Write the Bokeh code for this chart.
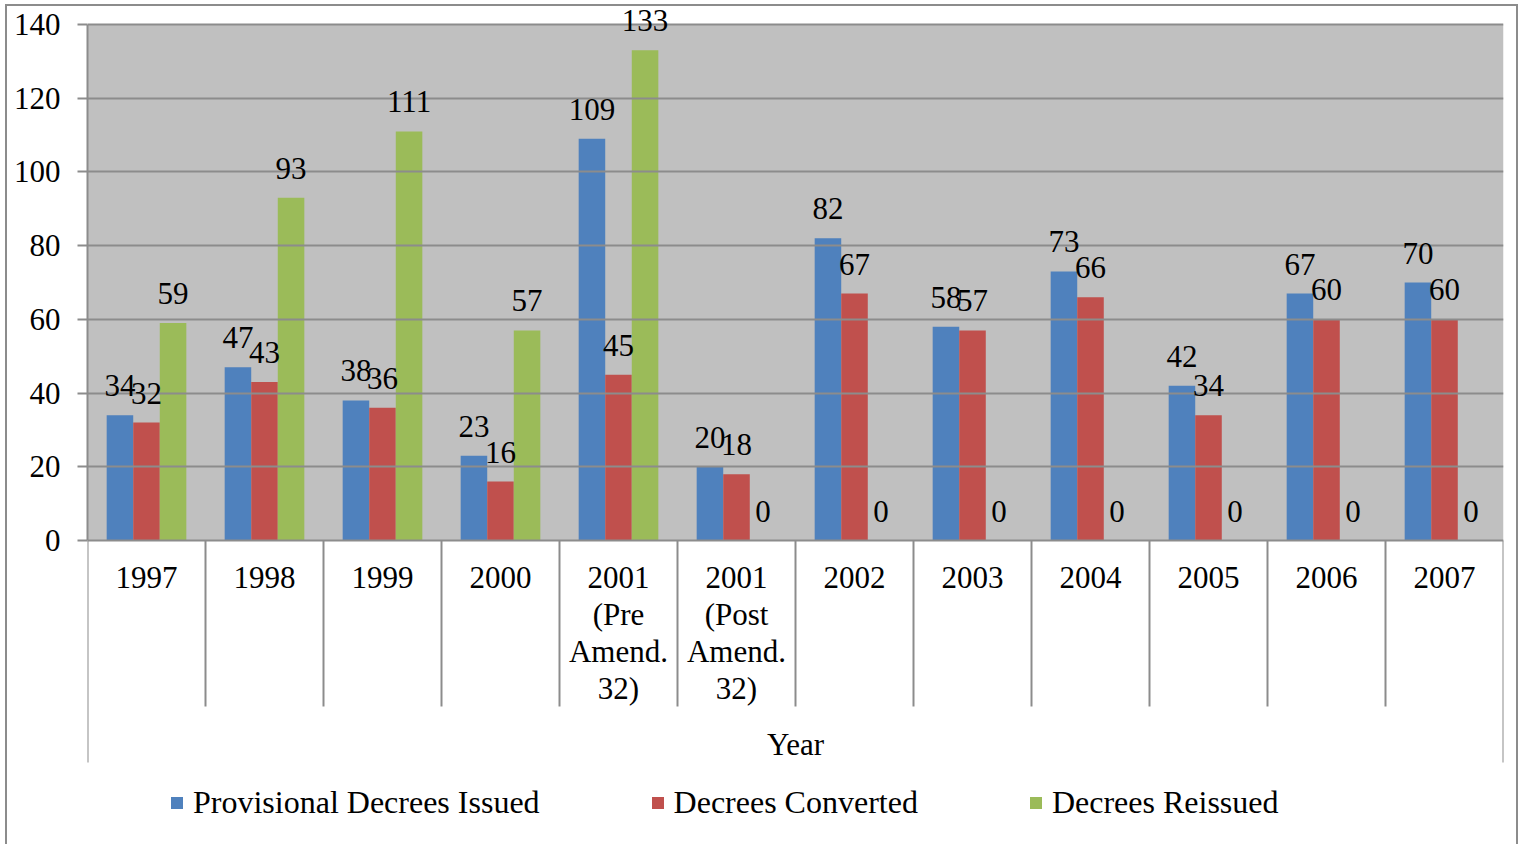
import numpy as np
from bokeh.plotting import figure
from bokeh.models import (ColumnDataSource, FixedTicker, Legend, LegendItem, LabelSet, Label,
                          BoxAnnotation, Range1d)
from bokeh.embed import file_html
from bokeh.resources import INLINE

categories = ["1997", "1998", "1999", "2000",
              "2001\n(Pre\nAmend.\n32)", "2001\n(Post\nAmend.\n32)",
              "2002", "2003", "2004", "2005", "2006", "2007"]
provisional = [34, 47, 38, 23, 109, 20, 82, 58, 73, 42, 67, 70]
converted = [32, 43, 36, 16, 45, 18, 67, 57, 66, 34, 60, 60]
reissued = [59, 93, 111, 57, 133, 0, 0, 0, 0, 0, 0, 0]
series_names = ["Provisional Decrees Issued", "Decrees Converted", "Decrees Reissued"]
series_values = [provisional, converted, reissued]
colors = ["#4f81bd", "#c0504d", "#9bbb59"]
y_ticks = [0, 20, 40, 60, 80, 100, 120, 140]
y_max = 140
x_title = "Year"

# ---- layout / style constants (pixels) ----
W, H = 1520, 844
PLOT_LEFT, PLOT_RIGHT, PLOT_TOP, PLOT_BOTTOM = 87, 1503, 24, 540
FONT = "Liberation Serif"
FS = "31px"
LEG_FS = "32px"
GRAY = "#8c8c8c"
BAR_W = 0.225
SEP_PX, OUTER_SEP_PX = 166, 222
CAT_FIRST_OFFSET, CAT_LINE_STEP = 26, 37
PX = (PLOT_BOTTOM - PLOT_TOP) / y_max          # pixels per data unit

n = len(categories)
p = figure(width=W, height=H, x_range=Range1d(0, n),
           y_range=Range1d(-(H - PLOT_BOTTOM) / PX, y_max + PLOT_TOP / PX),
           output_backend="svg", toolbar_location=None, x_axis_location=None,
           min_border_left=PLOT_LEFT, min_border_right=W - PLOT_RIGHT,
           min_border_top=0, min_border_bottom=0,
           background_fill_alpha=0, border_fill_alpha=0, outline_line_color=None)
p.styles = {"background": (
    "linear-gradient(#8c8c8c,#8c8c8c) 5px 4px / 2px 100% no-repeat, "
    "linear-gradient(#8c8c8c,#8c8c8c) 5px 4px / 1512px 2px no-repeat, "
    "linear-gradient(#8c8c8c,#8c8c8c) 1516px 4px / 2px 100% no-repeat, white")}

# plot-area background
p.add_layout(BoxAnnotation(left=0, right=n, bottom=0, top=y_max, fill_color="#c0c0c0",
                           fill_alpha=1, line_color=None, level="underlay"))

centers = np.arange(n) + 0.5
offsets = [-BAR_W, 0.0, BAR_W]
renderers = []
for name, vals, col, off in zip(series_names, series_values, colors, offsets):
    src = ColumnDataSource(dict(x=centers + off, top=vals, label=[str(v) for v in vals]))
    r = p.vbar(x="x", top="top", width=BAR_W, source=src, fill_color=col, line_color=None)
    renderers.append(r)
    p.add_layout(LabelSet(x="x", y="top", text="label", source=src, text_align="center",
                          text_baseline="alphabetic", y_offset=19, text_font=FONT,
                          text_font_size=FS, text_color="black"))

# grid (also gives the category baseline at 0)
p.xgrid.visible = False
p.ygrid.ticker = FixedTicker(ticks=y_ticks)
p.ygrid.grid_line_color = GRAY
p.ygrid.grid_line_width = 2
p.ygrid.level = "glyph"

# y axis
p.yaxis.ticker = FixedTicker(ticks=y_ticks)
p.yaxis.bounds = (0, y_max)
p.yaxis.major_tick_out = 10
p.yaxis.major_tick_in = 0
p.yaxis.minor_tick_line_color = None
p.yaxis.major_tick_line_color = GRAY
p.yaxis.major_tick_line_width = 2
p.yaxis.axis_line_color = GRAY
p.yaxis.axis_line_width = 2
p.yaxis.major_label_standoff = 17
p.yaxis.major_label_text_font = FONT
p.yaxis.major_label_text_font_size = FS
p.yaxis.major_label_text_color = "black"

# category axis: separators at boundaries, centred (wrapped) labels at centres
bounds = np.arange(n + 1)
sep_end = np.full(n + 1, -SEP_PX / PX)
sep_end[0] = sep_end[-1] = -OUTER_SEP_PX / PX
p.segment(x0=bounds, y0=np.zeros(n + 1), x1=bounds, y1=sep_end, line_color=GRAY, line_width=2)

split = [c.split("\n") for c in categories]
max_lines = max(len(s) for s in split)
for li in range(max_lines):
    xs = [centers[i] for i, s in enumerate(split) if len(s) > li]
    ts = [s[li] for s in split if len(s) > li]
    src = ColumnDataSource(dict(x=xs, y=[0] * len(xs), label=ts))
    p.add_layout(LabelSet(x="x", y="y", text="label", source=src, text_align="center",
                          text_baseline="middle", y_offset=-(CAT_FIRST_OFFSET + 11 + li * CAT_LINE_STEP),
                          text_font=FONT, text_font_size=FS, text_color="black"))
p.add_layout(Label(x=n / 2, y=0, text=x_title, text_align="center", text_baseline="middle",
                   y_offset=-204, text_font=FONT, text_font_size=FS, text_color="black"))

legend = Legend(items=[LegendItem(label=nm, renderers=[r]) for nm, r in zip(series_names, renderers)],
                orientation="horizontal", location=(82, 23),
                glyph_width=15, glyph_height=15, label_standoff=9, spacing=110,
                padding=0, margin=0, background_fill_alpha=0, border_line_color=None,
                label_text_font=FONT, label_text_font_size=LEG_FS, label_text_color="black")
p.add_layout(legend, "center")

open("out.html", "w").write(file_html(p, INLINE))
